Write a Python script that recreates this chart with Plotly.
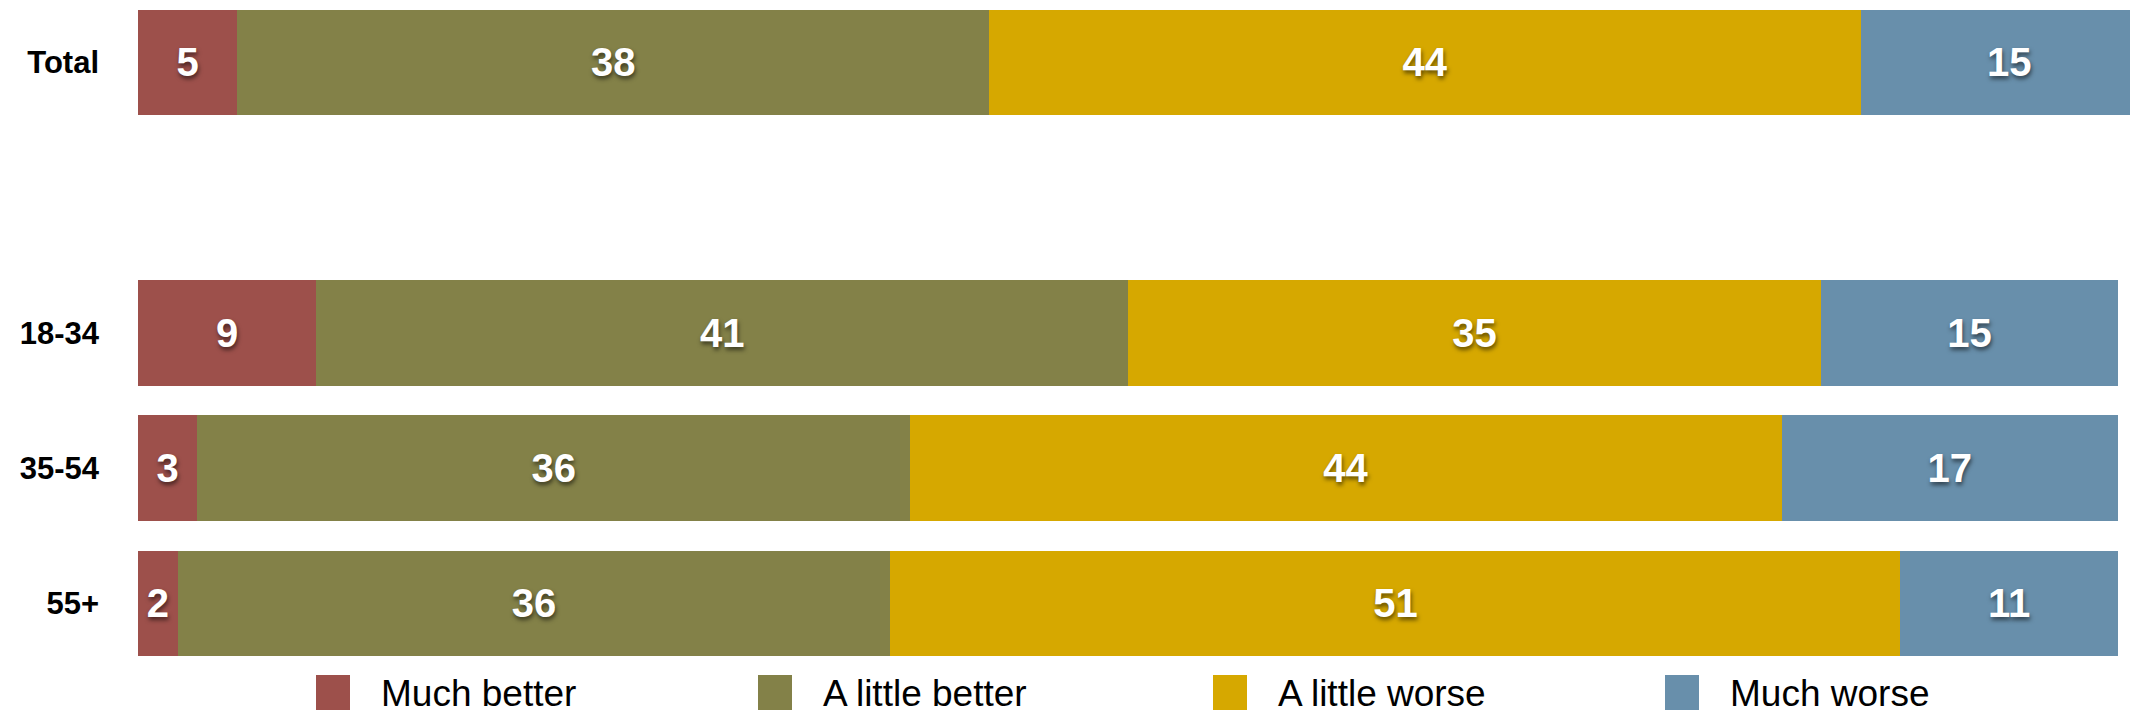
import plotly.graph_objects as go

categories = ["Total", "18-34", "35-54", "55+"]
series_names = ["Much better", "A little better", "A little worse", "Much worse"]
much_better = [5, 9, 3, 2]
little_better = [38, 41, 36, 36]
little_worse = [44, 35, 44, 51]
much_worse = [15, 15, 17, 11]
colors = ["#9D504B", "#838148", "#D6A800", "#688FAB"]

series_values = [much_better, little_better, little_worse, much_worse]

# Row positions: a one-row gap after "Total"
y_pos = [i + (1 if i > 0 else 0) for i in range(len(categories))]

W, H = 2130, 713
ML, MR, MT, MB = 138, 0, 0, 42
plot_w = W - ML - MR
plot_h = H - MT - MB

fig = go.Figure()
for name, vals, col in zip(series_names, series_values, colors):
    fig.add_trace(go.Bar(
        y=y_pos, x=vals, name=name, orientation="h",
        marker=dict(color=col, line=dict(width=0)),
        width=0.78,
        text=[str(v) for v in vals],
        textposition="inside",
        insidetextanchor="middle",
        textangle=0,
        textfont=dict(family="Liberation Sans, Arial, sans-serif", size=40,
                      color="white", weight="bold",
                      shadow="1px 3px 4px rgba(0,0,0,0.55)"),
        showlegend=False,
        hoverinfo="skip",
    ))

# Legend drawn as shapes + annotations in paper coords
legend_sq_x = [316, 758, 1213, 1665]
sq = 34
for name, col, px in zip(series_names, colors, legend_sq_x):
    x0 = (px - ML) / plot_w
    x1 = (px + sq - ML) / plot_w
    y_top = (plot_h - (675 - MT)) / plot_h
    y_bot = (plot_h - (710 - MT)) / plot_h
    fig.add_shape(type="rect", xref="paper", yref="paper",
                  x0=x0, x1=x1, y0=y_bot, y1=y_top,
                  fillcolor=col, line=dict(width=0))
    fig.add_annotation(xref="paper", yref="paper",
                       x=(px + sq + 29 - ML) / plot_w,
                       y=(plot_h - (693 - MT)) / plot_h,
                       xanchor="left", yanchor="middle",
                       text=name, showarrow=False,
                       font=dict(family="Liberation Sans, Arial, sans-serif",
                                 size=37, color="black"))

fig.update_layout(
    width=W, height=H,
    margin=dict(l=ML, r=MR, t=MT, b=MB, pad=0),
    barmode="stack",
    plot_bgcolor="white", paper_bgcolor="white",
    uniformtext=dict(mode="show", minsize=40),
    xaxis=dict(range=[0, 100.6], visible=False, fixedrange=True),
    yaxis=dict(range=[4.5, -0.462], tickvals=y_pos, ticktext=categories,
               showgrid=False, zeroline=False, showline=False,
               ticks="", ticklabelstandoff=38, automargin=False,
               tickfont=dict(family="Liberation Sans, Arial, sans-serif",
                             size=31, color="black", weight="bold")),
)

fig.write_html("out.html",
               config={"displayModeBar": False},
               post_script="document.body.style.margin='0';document.body.style.overflow='hidden';")
